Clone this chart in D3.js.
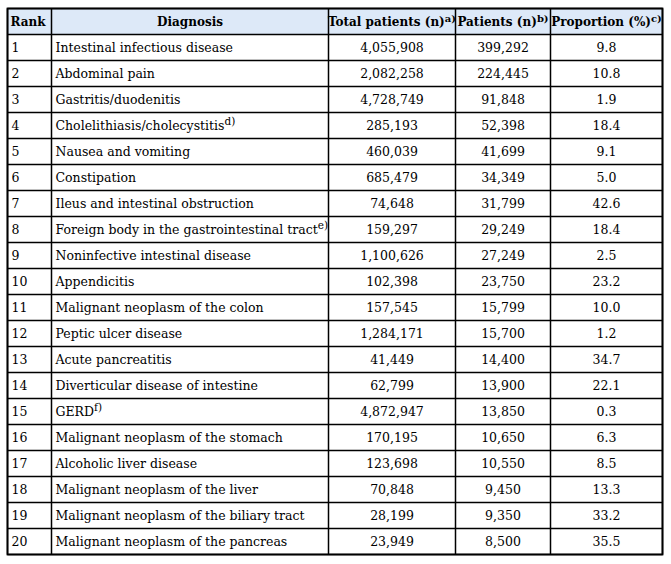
<!DOCTYPE html>
<html><head><meta charset="utf-8">
<script src="https://cdn.jsdelivr.net/npm/d3@7"></script>
<style>html,body{margin:0;padding:0;background:#fff;}</style>
</head><body>
<svg id="c" width="671" height="564"></svg>
<script>
const headers = ["Rank","Diagnosis","Total patients (n)","Patients (n)","Proportion (%)"];
const headerNotes = ["","","a)","b)","c)"];
const ranks = [1,2,3,4,5,6,7,8,9,10,11,12,13,14,15,16,17,18,19,20];
const diagnoses = ["Intestinal infectious disease","Abdominal pain","Gastritis/duodenitis","Cholelithiasis/cholecystitis","Nausea and vomiting","Constipation","Ileus and intestinal obstruction","Foreign body in the gastrointestinal tract","Noninfective intestinal disease","Appendicitis","Malignant neoplasm of the colon","Peptic ulcer disease","Acute pancreatitis","Diverticular disease of intestine","GERD","Malignant neoplasm of the stomach","Alcoholic liver disease","Malignant neoplasm of the liver","Malignant neoplasm of the biliary tract","Malignant neoplasm of the pancreas"];
const diagnosisNotes = ["","","","d)","","","","e)","","","","","","","f)","","","","",""];
const totalPatients = [4055908,2082258,4728749,285193,460039,685479,74648,159297,1100626,102398,157545,1284171,41449,62799,4872947,170195,123698,70848,28199,23949];
const patients = [399292,224445,91848,52398,41699,34349,31799,29249,27249,23750,15799,15700,14400,13900,13850,10650,10550,9450,9350,8500];
const proportions = [9.8,10.8,1.9,18.4,9.1,5.0,42.6,18.4,2.5,23.2,10.0,1.2,34.7,22.1,0.3,6.3,8.5,13.3,33.2,35.5];

const svg = d3.select("#c");
const colEdges = [7.5,51.5,328.5,455.5,550.5,662.5];
const tableTop = 8.5, headerBottom = 34.5, tableBottom = 554.5;
const y = d3.scaleBand().domain(ranks).range([headerBottom, tableBottom]);
const fmt = d3.format(",");
const fmt1 = d3.format(".1f");
const font = "'DejaVu Serif', serif";

// header background
svg.append("rect").attr("x",colEdges[0]).attr("y",tableTop)
  .attr("width",colEdges[5]-colEdges[0]).attr("height",headerBottom-tableTop)
  .attr("fill","#dde9f8");

// header text
const hd = svg.append("g").attr("font-family",font).attr("font-weight","bold").attr("font-size",12).attr("fill","#000");
headers.forEach((h,i)=>{
  const cx = i===0 ? colEdges[0]+3 : (colEdges[i]+colEdges[i+1])/2;
  const t = hd.append("text").attr("x",cx).attr("y",tableTop+17.5)
    .attr("text-anchor", i===0 ? "start":"middle");
  t.append("tspan").text(h);
  if(headerNotes[i]) t.append("tspan").attr("font-size",10).attr("dy",-4).text(headerNotes[i]);
});

// body
const body = svg.append("g").attr("font-family",font).attr("font-size",12.5).attr("fill","#000");
ranks.forEach((r,i)=>{
  const yy = y(r) + y.bandwidth()/2 + 4.5;
  body.append("text").attr("x",colEdges[0]+4).attr("y",yy).text(r);
  const d = body.append("text").attr("x",colEdges[1]+4).attr("y",yy);
  d.append("tspan").text(diagnoses[i]);
  if(diagnosisNotes[i]) d.append("tspan").attr("font-size",10.5).attr("dy",-5).text(diagnosisNotes[i]);
  body.append("text").attr("x",(colEdges[2]+colEdges[3])/2).attr("y",yy).attr("text-anchor","middle").text(fmt(totalPatients[i]));
  body.append("text").attr("x",(colEdges[3]+colEdges[4])/2).attr("y",yy).attr("text-anchor","middle").text(fmt(patients[i]));
  body.append("text").attr("x",(colEdges[4]+colEdges[5])/2).attr("y",yy).attr("text-anchor","middle").text(fmt1(proportions[i]));
});

// grid lines
const g = svg.append("g").attr("stroke","#000").attr("stroke-width",1.5);
const hLines = [tableTop, headerBottom].concat(ranks.map(r=>y(r)+y.bandwidth()));
hLines.forEach(v=>g.append("line").attr("x1",colEdges[0]).attr("x2",colEdges[5]).attr("y1",v).attr("y2",v));
colEdges.forEach(v=>g.append("line").attr("x1",v).attr("x2",v).attr("y1",tableTop).attr("y2",tableBottom));
svg.append("rect").attr("x",colEdges[0]).attr("y",tableTop).attr("width",colEdges[5]-colEdges[0]).attr("height",tableBottom-tableTop)
  .attr("fill","none").attr("stroke","#000").attr("stroke-width",1.8);
</script>
</body></html>
